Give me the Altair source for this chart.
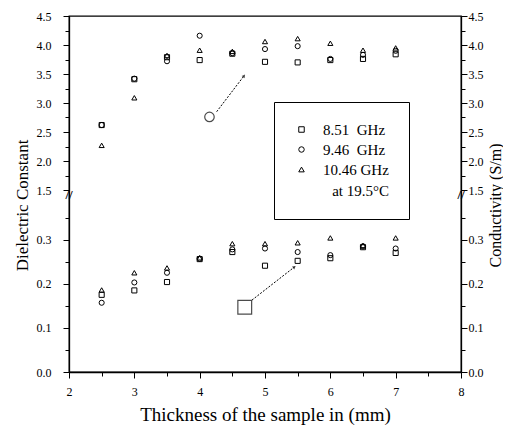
import altair as alt
import pandas as pd

FONT = "Liberation Serif"

# ---- data ----
thickness = [2.5, 3.0, 3.5, 4.0, 4.5, 5.0, 5.5, 6.0, 6.5, 7.0]
freqs = ["8.51\u00a0\u00a0GHz", "9.46\u00a0\u00a0GHz", "10.46\u00a0GHz"]

# dielectric constant (upper part of the broken axis)
eps_851 = [2.62, 3.41, 3.79, 3.74, 3.85, 3.71, 3.70, 3.74, 3.76, 3.84]
eps_946 = [2.62, 3.42, 3.72, 4.16, 3.86, 3.93, 3.98, 3.76, 3.83, 3.90]
eps_1046 = [2.27, 3.09, 3.82, 3.91, 3.89, 4.06, 4.11, 4.03, 3.91, 3.95]

# conductivity (lower part of the broken axis)
sig_851 = [0.175, 0.185, 0.204, 0.256, 0.272, 0.241, 0.252, 0.258, 0.283, 0.270]
sig_946 = [0.157, 0.203, 0.225, 0.257, 0.278, 0.280, 0.272, 0.265, 0.285, 0.280]
sig_1046 = [0.186, 0.225, 0.236, 0.259, 0.291, 0.291, 0.293, 0.304, 0.287, 0.304]

# annotation markers and arrows
ann_circle_x = [4.15]
ann_circle_y = [2.76]
ann_square_x = [4.69]
ann_square_y = [0.147]
arrow_x0 = [4.26, 4.80]
arrow_y0 = [2.85, 0.163]
arrow_x1 = [4.68, 5.45]
arrow_y1 = [3.47, 0.238]

x_ticks = [2, 2.5, 3, 3.5, 4, 4.5, 5, 5.5, 6, 6.5, 7, 7.5, 8]
y_ticks = [0.0, 0.05, 0.1, 0.15, 0.2, 0.25, 0.3, 0.35,
           1.5, 1.75, 2.0, 2.25, 2.5, 2.75, 3.0, 3.25, 3.5, 3.75, 4.0, 4.25, 4.5]
y_domain = [0, 0.39, 1.5, 4.5]

# ---- tables ----
rows = []
for f, vals in zip(freqs, [eps_851, eps_946, eps_1046]):
    rows += [{"t": t, "v": v, "f": f} for t, v in zip(thickness, vals)]
for f, vals in zip(freqs, [sig_851, sig_946, sig_1046]):
    rows += [{"t": t, "v": v, "f": f} for t, v in zip(thickness, vals)]
df = pd.DataFrame(rows)

df_circ = pd.DataFrame({"t": ann_circle_x, "v": ann_circle_y})
df_sq = pd.DataFrame({"t": ann_square_x, "v": ann_square_y})
df_arr = pd.DataFrame({"t": arrow_x0, "v": arrow_y0, "t1": arrow_x1, "v1": arrow_y1})
df_head_top = pd.DataFrame({"t": arrow_x1[:1], "v": arrow_y1[:1]})
df_head_bot = pd.DataFrame({"t": arrow_x1[1:], "v": arrow_y1[1:]})

W, H = 392, 356
xscale = alt.Scale(domain=[2, 8], nice=False, zero=False)
yscale = alt.Scale(domain=y_domain, range=[H, 184, 174, 0], zero=False, nice=False)

MAJOR_Y = ("(datum.value >= 1 && (datum.value*2) % 1 == 0) || "
           "(datum.value < 1 && round(datum.value*100) % 10 == 0)")
MAJOR_X = "datum.value % 1 == 0"
XTITLE = "Thickness of the sample in (mm)"

x_axis = alt.Axis(values=x_ticks, labelExpr=f"({MAJOR_X}) ? format(datum.value, 'd') : ''",
                  tickSize={"condition": {"test": MAJOR_X, "value": 6}, "value": 4},
                  orient="bottom", title=XTITLE, labelPadding=8, titlePadding=8,
                  labelFlush=False, labelFont=FONT, titleFont=FONT, labelFontSize=12,
                  titleFontSize=19, titleFontWeight="normal")
y_left = alt.Axis(values=y_ticks, labelExpr=f"({MAJOR_Y}) ? format(datum.value, '.1f') : ''",
                  tickSize={"condition": {"test": MAJOR_Y, "value": 6}, "value": 4},
                  title="Dielectric Constant", orient="left", labelPadding=12, titlePadding=5,
                  titleY=189,
                  labelFlush=False, labelFont=FONT, titleFont=FONT, labelFontSize=12,
                  titleFontSize=17, titleFontWeight="normal")
y_right = alt.Axis(values=y_ticks, labelExpr=f"({MAJOR_Y}) ? format(datum.value, '.1f') : ''",
                   tickSize={"condition": {"test": MAJOR_Y, "value": 6}, "value": 4},
                   title="Conductivity (S/m)", orient="right", labelPadding=1, titlePadding=4,
                   titleAngle=270, titleBaseline="top", titleY=189, labelFlush=False,
                   labelFont=FONT, titleFont=FONT, labelFontSize=12,
                   titleFontSize=16, titleFontWeight="normal")

legend = alt.Legend(title="at 19.5\u00b0C", orient="none", legendX=205, legendY=86,
                    titleOrient="bottom", titleAnchor="end", padding=20,
                    strokeColor="black", fillColor="white",
                    labelFont=FONT, labelFontSize=15, labelColor="black",
                    titleFont=FONT, titleFontSize=15, titleFontWeight="normal", titleColor="black",
                    symbolSize=30, symbolStrokeColor="black", symbolFillColor="white",
                    symbolStrokeWidth=1, labelOffset=14, rowPadding=4, titlePadding=6)

X = alt.X("t:Q", scale=xscale, axis=x_axis)

points = alt.Chart(df).mark_point(filled=False, color="black", size=26, strokeWidth=1, opacity=1).encode(
    x=X,
    y=alt.Y("v:Q", scale=yscale, axis=y_left),
    shape=alt.Shape("f:N", sort=freqs,
                    scale=alt.Scale(domain=freqs, range=["square", "circle", "triangle-up"]),
                    legend=legend),
)

right = alt.Chart(df).mark_point(opacity=0).encode(
    x=X, y=alt.Y("v:Q", scale=yscale, axis=y_right))

YN = alt.Y("v:Q", scale=yscale, axis=None)

circ = alt.Chart(df_circ).mark_point(shape="circle", filled=False, color="black", size=90,
                                     strokeWidth=1.2).encode(x=X, y=YN)
sq = alt.Chart(df_sq).mark_point(shape="square", filled=False, color="black", size=190,
                                 strokeWidth=1.2).encode(x=X, y=YN)

arrows = alt.Chart(df_arr).mark_rule(color="black", strokeWidth=1, strokeDash=[2, 1.5]).encode(
    x=X, y=YN, x2="t1:Q", y2="v1:Q")
head_top = alt.Chart(df_head_top).mark_point(shape="triangle-up", filled=True, color="black",
                                             size=14, angle=37).encode(x=X, y=YN)
head_bot = alt.Chart(df_head_bot).mark_point(shape="triangle-up", filled=True, color="black",
                                             size=14, angle=52).encode(x=X, y=YN)

one = pd.DataFrame({"k": [0]})
brk_l = alt.Chart(one).mark_text(text="//", font=FONT, fontSize=13, fontWeight="bold", color="black").encode(
    x=alt.value(0), y=alt.value(179))
brk_r = alt.Chart(one).mark_text(text="//", font=FONT, fontSize=13, fontWeight="bold", color="black").encode(
    x=alt.value(W), y=alt.value(179))

chart = alt.layer(points, right, circ, sq, arrows, head_top, head_bot, brk_l, brk_r).resolve_scale(
    y="shared", x="shared").resolve_axis(y="independent", x="shared").properties(
    width=W, height=H, background="white",
    padding={"left": 5, "top": 2, "right": 0, "bottom": 5}
).configure_view(stroke="black", strokeWidth=1.3).configure_axis(
    grid=False, domainColor="black", domainWidth=1.3, tickColor="black", tickWidth=1,
    labelFont=FONT, labelFontSize=12, labelColor="black",
    titleFont=FONT, titleFontSize=17, titleFontWeight="normal", titleColor="black"
)

chart.save("out.html", embed_options={"renderer": "svg", "actions": False})
